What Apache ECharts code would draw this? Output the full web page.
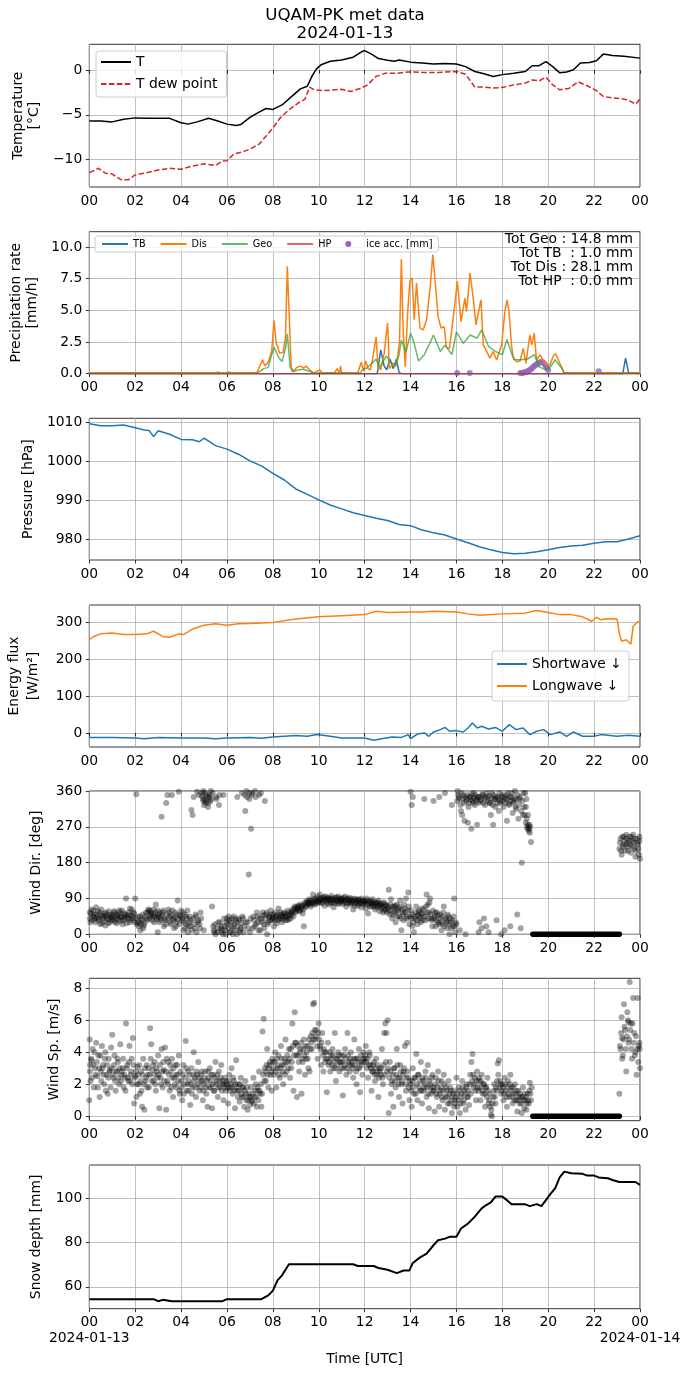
<!DOCTYPE html>
<html>
<head>
<meta charset="utf-8">
<script src="https://cdn.jsdelivr.net/npm/echarts@6/dist/echarts.min.js"></script>
<style>html,body{margin:0;padding:0;background:#fff}#chart{width:690px;height:1377px}</style>
</head>
<body>
<div id="chart"></div>
<script>
// ---- data (time in hours UTC since 2024-01-13 00:00) ----
var titleLines = ['UQAM-PK met data', '2024-01-13'];
var totLabels = ['Tot Geo : 14.8 mm', 'Tot TB  : 1.0 mm', 'Tot Dis : 28.1 mm', 'Tot HP  : 0.0 mm'];
var dateLabels = ['2024-01-13', '2024-01-14'];

var tempT = [[0,-5.7],[0.5,-5.7],[1,-5.8],[1.5,-5.5],[2,-5.35],[2.5,-5.4],[3,-5.4],[3.5,-5.4],[4,-5.9],[4.3,-6.05],[4.7,-5.8],[5.2,-5.4],[5.6,-5.7],[6,-6.05],[6.4,-6.2],[6.6,-6.1],[7,-5.3],[7.4,-4.7],[7.7,-4.3],[8,-4.4],[8.4,-3.9],[8.8,-3.0],[9.2,-2.1],[9.5,-1.8],[9.7,-0.7],[9.9,0.15],[10.1,0.6],[10.5,1.0],[11,1.15],[11.5,1.45],[11.9,2.1],[12,2.2],[12.3,1.8],[12.6,1.3],[13,1.1],[13.3,1.0],[13.5,1.15],[14,0.9],[14.5,0.8],[15,0.7],[15.5,0.75],[16,0.7],[16.4,0.4],[16.8,-0.15],[17.2,-0.4],[17.6,-0.7],[18,-0.5],[18.5,-0.35],[19,-0.15],[19.3,0.5],[19.6,0.5],[19.9,0.95],[20.2,0.4],[20.5,-0.3],[20.8,-0.2],[21.1,0.05],[21.4,0.8],[21.8,0.85],[22.1,1.05],[22.4,1.8],[22.8,1.65],[23.3,1.55],[24,1.35]];
var tempDew = [[0,-11.5],[0.4,-11.0],[0.7,-11.55],[1,-11.65],[1.4,-12.3],[1.7,-12.3],[2,-11.75],[2.5,-11.5],[3,-11.2],[3.5,-11.0],[4,-11.1],[4.5,-10.75],[5,-10.5],[5.5,-10.7],[5.8,-10.2],[6,-10.15],[6.3,-9.4],[6.7,-9.15],[7,-8.85],[7.4,-8.3],[7.7,-7.4],[8,-6.5],[8.3,-5.4],[8.7,-4.45],[9.1,-3.7],[9.4,-3.25],[9.6,-1.9],[9.8,-2.2],[10.2,-2.3],[10.7,-2.2],[11,-2.15],[11.4,-2.4],[11.8,-2.05],[12.1,-1.7],[12.5,-0.7],[12.9,-0.35],[13.4,-0.35],[13.9,-0.2],[14.5,-0.25],[15.2,-0.25],[16,-0.15],[16.4,-0.45],[16.8,-1.9],[17.2,-1.9],[17.6,-2.0],[18,-1.95],[18.5,-1.65],[19,-1.45],[19.3,-1.1],[19.6,-1.2],[19.9,-0.8],[20.2,-1.65],[20.5,-2.2],[20.9,-2.05],[21.3,-1.3],[21.7,-1.75],[22.1,-2.3],[22.4,-2.95],[22.8,-3.1],[23.2,-3.2],[23.5,-3.35],[23.8,-3.8],[24,-3.25]];

var precipTB = [[0,0],[12.55,0],[12.7,1.88],[12.85,0.6],[12.96,0.3],[13.1,1.15],[13.25,0.4],[13.38,1.15],[13.5,0.1],[13.6,0],[23.25,0],[23.37,1.22],[23.5,0.1],[23.55,0],[24,0]];
var precipDis = [[0,0.05],[7.3,0.05],[7.55,1.1],[7.65,0.6],[7.8,0.9],[7.95,1.8],[8.05,4.2],[8.15,2.4],[8.3,1.6],[8.45,1.7],[8.55,2.9],[8.63,8.47],[8.72,4.2],[8.8,0.5],[8.9,0.2],[9.05,0.5],[9.2,0.6],[9.35,0.45],[9.45,0.6],[9.6,0.3],[9.75,0.05],[10.05,0.3],[10.15,0.05],[10.7,0.1],[10.8,0.4],[10.9,0.05],[10.95,0.6],[11.0,0.05],[11.7,0.05],[11.85,0.9],[11.95,0.2],[12.05,1.0],[12.15,0.4],[12.25,0.3],[12.35,1.2],[12.5,2.9],[12.58,0.6],[12.7,0.3],[12.85,1.6],[13.0,4.0],[13.08,0.4],[13.2,0.7],[13.35,0.6],[13.45,1.5],[13.52,2.6],[13.6,9.05],[13.68,3.3],[13.77,0.55],[13.87,4.7],[13.97,7.3],[14.07,7.55],[14.16,4.25],[14.26,7.15],[14.41,3.6],[14.55,3.45],[14.7,4.25],[14.86,6.9],[14.97,9.4],[15.08,7.15],[15.2,4.5],[15.33,3.6],[15.47,3.7],[15.56,2.1],[15.7,2.0],[15.85,4.25],[16.04,7.28],[16.2,4.1],[16.37,5.96],[16.44,4.9],[16.59,7.94],[16.73,6.0],[16.85,3.85],[17.07,5.83],[17.17,2.27],[17.32,1.74],[17.46,1.22],[17.6,1.74],[17.75,1.08],[17.97,2.27],[18.11,4.9],[18.21,5.83],[18.29,4.9],[18.4,2.27],[18.47,1.35],[18.62,0.95],[18.77,1.0],[18.91,2.0],[19.03,0.82],[19.2,3.06],[19.28,2.27],[19.39,3.2],[19.49,1.08],[19.64,1.48],[19.78,1.08],[19.93,0.69],[20.07,0.69],[20.22,1.4],[20.32,1.6],[20.44,1.08],[20.58,0.55],[20.68,0.1],[20.8,0.05],[24,0.05]];
var precipGeo = [[0,0.05],[5.5,0.05],[5.6,0.15],[5.7,0.05],[6.0,0.05],[6.1,0.15],[6.2,0.05],[7.3,0.05],[7.45,0.2],[7.6,0.4],[7.8,0.5],[7.9,1.2],[8.05,2.1],[8.25,1.3],[8.4,0.95],[8.55,2.0],[8.63,3.15],[8.75,0.55],[8.85,0.15],[9.1,0.3],[9.3,0.35],[9.6,0.2],[9.8,0.05],[11.8,0.05],[11.9,0.3],[12.1,0.45],[12.3,0.8],[12.5,1.15],[12.65,0.5],[12.75,0.8],[12.95,1.4],[13.1,0.95],[13.35,0.65],[13.5,1.5],[13.6,2.65],[13.8,1.7],[14.0,3.2],[14.15,2.45],[14.35,1.0],[14.6,1.5],[14.85,2.45],[15.0,3.05],[15.3,1.75],[15.5,2.25],[15.8,1.5],[16.0,3.3],[16.3,2.4],[16.6,3.05],[16.9,2.8],[17.1,3.45],[17.4,2.15],[17.7,1.75],[18.0,1.5],[18.2,2.7],[18.5,1.1],[18.8,1.1],[19.1,1.15],[19.4,1.5],[19.6,0.55],[19.9,0.3],[20.1,0.55],[20.3,1.1],[20.6,0.4],[20.7,0.05],[24,0.05]];
var precipHP = [[0,0],[24,0]];
var iceAcc = [[16.03,0.05],[16.58,0.05],[18.78,0.05],[18.84,0.06],[18.9,0.08],[18.96,0.1],[19.02,0.13],[19.08,0.18],[19.14,0.23],[19.2,0.3],[19.26,0.38],[19.32,0.48],[19.38,0.58],[19.44,0.67],[19.5,0.75],[19.56,0.83],[19.62,0.88],[19.68,0.92],[19.74,0.9],[19.8,0.84],[19.85,0.74],[19.9,0.6],[19.95,0.45],[20.0,0.3],[22.2,0.2]];

var pressure = [[0,1009.6],[0.5,1009.1],[1,1009.1],[1.5,1009.3],[2,1008.6],[2.4,1008.0],[2.6,1007.9],[2.8,1006.3],[3.0,1007.8],[3.5,1006.9],[4,1005.6],[4.5,1005.5],[4.8,1005.0],[5.0,1005.9],[5.5,1004.0],[6,1003.1],[6.5,1001.8],[7,1000.1],[7.5,998.8],[8,996.9],[8.5,995.2],[9,992.9],[9.5,991.5],[10,990.1],[10.5,988.8],[11,987.8],[11.5,986.8],[12,986.1],[12.5,985.4],[13,984.8],[13.5,983.8],[14,983.5],[14.5,982.4],[15,981.7],[15.5,981.1],[16,980.1],[16.5,979.1],[17,978.1],[17.5,977.3],[18,976.6],[18.5,976.3],[19,976.4],[19.5,976.8],[20,977.3],[20.5,977.9],[21,978.3],[21.5,978.5],[22,979.0],[22.5,979.4],[23,979.4],[23.5,980.1],[24,980.9]];

var shortwave = [[0,-12],[1,-12.5],[2,-13.5],[2.4,-16],[3,-12],[4,-13.5],[5,-13.5],[5.5,-16],[6,-13.5],[7,-12.6],[7.5,-14.4],[8,-10.8],[9,-7.2],[9.5,-9],[9.9,-4.5],[10.5,-9],[11,-13.5],[12,-13.5],[12.4,-20],[12.8,-15],[13.2,-10.8],[13.6,-12],[13.9,-4.5],[14.0,-15],[14.3,-3],[14.6,0],[14.8,-9],[15.0,2.7],[15.3,9],[15.5,15],[15.7,4.5],[16,6.3],[16.3,2.7],[16.5,13.5],[16.7,27],[16.9,13.5],[17.1,18],[17.4,10.8],[17.7,15],[18.0,4.5],[18.3,22.5],[18.6,9],[18.9,13.5],[19.2,-4.5],[19.5,4.5],[19.8,9],[20.1,-4.5],[20.5,2.7],[20.8,-9],[21.1,2.7],[21.5,-9],[22,-9],[22.3,-4.5],[23,-9],[23.5,-6],[24,-9]];
var longwave = [[0,252],[0.2,261],[0.5,268],[1,270],[1.5,266],[2,266],[2.5,268],[2.8,275],[3.2,261],[3.5,259],[3.9,268],[4.1,266],[4.5,281],[5,291],[5.5,295],[6,291],[6.5,295],[7,296],[8,299],[9,308],[10,314],[11,317],[12,320],[12.5,329],[13,326],[14,327],[14.5,327],[15,329],[16,327],[16.5,322],[17,318],[18,322],[19,324],[19.5,331],[20,326],[20.5,320],[21,320],[21.5,314],[21.9,302],[22.1,313],[22.3,306],[22.5,309],[23,308],[23.1,270],[23.2,248],[23.4,252],[23.6,240],[23.7,288],[23.9,300],[24,302]];

var windDir = [[0.02,55],[0.05,30],[0.1,62],[0.15,45],[0.2,50],[0.25,38],[0.3,68],[0.35,42],[0.4,35],[0.45,55],[0.5,48],[0.55,28],[0.6,40],[0.65,52],[0.7,22],[0.75,45],[0.8,38],[0.85,58],[0.9,30],[0.95,44],
[1.0,50],[1.05,35],[1.1,55],[1.15,40],[1.2,28],[1.25,48],[1.3,60],[1.35,33],[1.4,45],[1.45,25],[1.5,52],[1.55,38],[1.6,90],[1.65,42],[1.7,55],[1.75,30],[1.8,48],[1.85,62],[1.9,40],[1.95,52],
[2.0,90],[2.05,352],[2.1,30],[2.15,20],[2.2,45],[2.25,25],[2.3,35],[2.35,15],[2.4,28],[2.5,40],[2.55,55],[2.6,60],[2.65,48],[2.7,52],[2.75,35],[2.8,62],[2.85,45],[2.9,75],[2.95,38],[2.98,5],
[3.0,50],[3.05,30],[3.1,42],[3.15,295],[3.2,55],[3.25,20],[3.3,35],[3.35,330],[3.4,350],[3.45,62],[3.5,45],[3.55,25],[3.6,350],[3.65,40],[3.7,15],[3.75,55],[3.8,30],[3.85,85],[3.9,358],[3.95,48],
[4.0,60],[4.05,35],[4.1,10],[4.15,50],[4.2,25],[4.25,40],[4.3,5],[4.35,30],[4.4,20],[4.45,312],[4.5,300],[4.55,345],[4.6,15],[4.65,45],[4.7,358],[4.75,35],[4.8,25],[4.85,55],[4.9,348],[4.95,340],[4.97,360],[4.99,10],
[5.0,325],[5.05,355],[5.1,335],[5.15,345],[5.2,330],[5.25,350],[5.3,360],[5.35,70],[5.4,20],[5.45,5],[5.5,0],[5.55,340],[5.6,15],[5.65,325],[5.7,30],[5.75,5],[5.8,10],[5.85,350],[5.9,20],[5.95,0],
[6.0,40],[6.05,15],[6.1,35],[6.15,5],[6.2,20],[6.25,0],[6.3,45],[6.35,10],[6.4,30],[6.45,345],[6.5,40],[6.55,5],[6.6,15],[6.65,355],[6.7,40],[6.75,20],[6.8,310],[6.85,360],[6.9,30],[6.95,150],[6.98,340],
[7.0,5],[7.05,265],[7.1,355],[7.15,45],[7.2,20],[7.25,345],[7.3,55],[7.35,30],[7.4,350],[7.45,10],[7.5,40],[7.55,55],[7.6,25],[7.65,335],[7.7,50],[7.75,0],[7.8,30],[7.85,45],[7.9,60],[7.95,35],
[8.0,40],[8.05,20],[8.1,55],[8.15,45],[8.2,35],[8.25,65],[8.3,40],[8.35,50],[8.4,30],[8.45,45],[8.5,55],[8.55,35],[8.6,42],[8.65,60],[8.7,38],[8.75,48],[8.8,55],[8.85,62],[8.9,45],[8.95,70],
[9.0,58],[9.05,65],[9.1,72],[9.15,60],[9.2,75],[9.25,68],[9.3,52],[9.35,20],[9.4,80],[9.45,72],[9.5,85],[9.55,78],[9.6,88],[9.65,70],[9.7,80],[9.75,100],[9.8,75],[9.85,90],[9.9,82],[9.95,95],
[10.0,85],[10.05,100],[10.1,78],[10.15,92],[10.2,88],[10.25,72],[10.3,95],[10.35,84],[10.4,90],[10.45,75],[10.5,88],[10.55,96],[10.6,80],[10.65,68],[10.7,92],[10.75,85],[10.8,78],[10.85,95],[10.9,82],[10.95,88],
[11.0,90],[11.05,76],[11.1,85],[11.15,95],[11.2,70],[11.25,88],[11.3,80],[11.35,92],[11.4,75],[11.45,85],[11.5,62],[11.55,90],[11.6,78],[11.65,84],[11.7,72],[11.75,88],[11.8,80],[11.85,68],[11.9,85],[11.95,75],
[12.0,82],[12.05,65],[12.1,90],[12.15,52],[12.2,78],[12.25,85],[12.3,70],[12.35,88],[12.4,75],[12.45,62],[12.5,80],[12.55,72],[12.6,85],[12.65,58],[12.7,75],[12.75,68],[12.8,55],[12.85,80],[12.9,62],[12.95,72],
[13.0,65],[13.05,112],[13.1,50],[13.15,88],[13.2,40],[13.25,70],[13.3,55],[13.35,30],[13.4,75],[13.45,60],[13.5,45],[13.55,85],[13.6,10],[13.65,55],[13.7,35],[13.75,65],[13.8,90],[13.85,45],[13.9,105],[13.95,25],
[14.0,358],[14.02,60],[14.05,325],[14.08,20],[14.1,345],[14.15,5],[14.2,40],[14.25,70],[14.3,25],[14.35,55],[14.4,45],[14.45,30],[14.5,65],[14.55,50],[14.6,340],[14.65,35],[14.7,100],[14.75,75],[14.8,55],[14.85,90],[14.9,40],[14.95,20],
[15.0,335],[15.05,45],[15.1,20],[15.15,55],[15.2,30],[15.25,345],[15.3,40],[15.35,10],[15.4,25],[15.45,70],[15.5,355],[15.55,35],[15.6,15],[15.65,45],[15.7,0],[15.75,30],[15.8,325],[15.85,20],[15.9,90],[15.95,5],
[16.0,25],[16.05,360],[16.1,345],[16.15,10],[16.2,310],[16.25,300],[16.3,350],[16.35,285],[16.4,0],[16.45,340],[16.5,280],[16.55,330],[16.6,345],[16.65,265],[16.7,335],[16.75,355],[16.8,325],[16.85,340],[16.9,275],[16.95,345],[16.97,5],
[17.0,30],[17.05,335],[17.1,15],[17.15,350],[17.2,40],[17.25,325],[17.3,20],[17.35,345],[17.4,5],[17.45,330],[17.5,300],[17.55,355],[17.6,275],[17.65,340],[17.7,320],[17.75,35],[17.8,345],[17.85,310],[17.9,330],[17.95,0],
[18.0,350],[18.05,320],[18.1,10],[18.15,340],[18.2,285],[18.25,355],[18.3,325],[18.35,20],[18.4,345],[18.45,305],[18.5,335],[18.55,360],[18.6,315],[18.65,50],[18.7,290],[18.75,340],[18.8,15],[18.85,180],[18.9,300],[18.95,320],
[19.0,355],[19.02,280],[19.05,340],[19.08,270],[19.1,265],[19.12,300],[19.15,260],[19.18,275],[19.2,255],[19.25,232],
[23.1,215],[23.15,240],[23.2,200],[23.25,225],[23.3,245],[23.35,210],[23.4,250],[23.45,230],[23.5,220],[23.55,245],[23.6,205],[23.65,235],[23.7,250],[23.75,215],[23.8,195],[23.85,240],[23.9,225],[23.95,200],[24.0,190],[23.98,245]];
// in-between samples of the same record (half-step times)
var windDirB = [[0.025,40],[0.075,52],[0.125,35],[0.175,60],[0.225,44],[0.275,30],[0.325,50],[0.375,58],[0.425,40],[0.475,25],[0.525,62],[0.575,45],[0.625,33],[0.675,48],[0.725,55],[0.775,40],[0.825,28],[0.875,50],[0.925,45],[0.975,36],
[1.025,42],[1.075,58],[1.125,30],[1.175,50],[1.225,45],[1.275,38],[1.325,55],[1.375,42],[1.425,60],[1.475,35],[1.525,45],[1.575,50],[1.625,28],[1.675,48],[1.725,40],[1.775,65],[1.825,35],[1.875,45],[1.925,55],[1.975,30],
[2.025,40],[2.075,25],[2.125,45],[2.175,30],[2.225,10],[2.275,38],[2.325,50],[2.375,22],[2.425,45],[2.475,55],[2.525,35],[2.575,62],[2.625,40],[2.675,58],[2.725,45],[2.775,50],[2.825,30],[2.875,55],[2.925,42],[2.975,60],
[3.025,45],[3.075,55],[3.125,35],[3.175,48],[3.225,60],[3.275,40],[3.325,25],[3.375,50],[3.425,38],[3.475,55],[3.525,30],[3.575,48],[3.625,60],[3.675,35],[3.725,42],[3.775,20],[3.825,50],[3.875,38],[3.925,25],[3.975,45],
[4.025,40],[4.075,55],[4.125,30],[4.175,15],[4.225,45],[4.275,60],[4.325,20],[4.375,45],[4.425,35],[4.475,10],[4.525,40],[4.575,25],[4.625,50],[4.675,5],[4.725,30],[4.775,350],[4.825,15],[4.875,40],[4.925,355],[4.975,335],
[5.025,340],[5.075,330],[5.125,350],[5.175,320],[5.225,345],[5.275,335],[5.325,340],[5.375,355],[5.425,10],[5.475,25],[5.525,345],[5.575,5],[5.625,30],[5.675,350],[5.725,15],[5.775,20],[5.825,0],[5.875,40],[5.925,10],[5.975,30],
[6.025,25],[6.075,45],[6.125,5],[6.175,30],[6.225,40],[6.275,15],[6.325,25],[6.375,38],[6.425,0],[6.475,20],[6.525,35],[6.575,10],[6.625,28],[6.675,45],[6.725,5],[6.775,350],[6.825,30],[6.875,345],[6.925,15],[6.975,355],
[7.025,40],[7.075,350],[7.125,15],[7.175,35],[7.225,360],[7.275,25],[7.325,45],[7.375,10],[7.425,40],[7.475,355],[7.525,30],[7.575,48],[7.625,15],[7.675,40],[7.725,55],[7.775,25],[7.825,45],[7.875,35],[7.925,50],[7.975,42],
[8.025,50],[8.075,35],[8.125,45],[8.175,28],[8.225,50],[8.275,40],[8.325,55],[8.375,45],[8.425,38],[8.475,52],[8.525,45],[8.575,50],[8.625,35],[8.675,48],[8.725,55],[8.775,40],[8.825,50],[8.875,58],[8.925,65],[8.975,55],
[9.025,68],[9.075,62],[9.125,70],[9.175,58],[9.225,65],[9.275,72],[9.325,62],[9.375,75],[9.425,68],[9.475,80],[9.525,76],[9.575,82],[9.625,75],[9.675,85],[9.725,78],[9.775,88],[9.825,82],[9.875,76],[9.925,88],[9.975,80],
[10.025,82],[10.075,90],[10.125,86],[10.175,80],[10.225,94],[10.275,84],[10.325,88],[10.375,78],[10.425,92],[10.475,86],[10.525,80],[10.575,90],[10.625,85],[10.675,78],[10.725,88],[10.775,93],[10.825,84],[10.875,76],[10.925,90],[10.975,82],
[11.025,85],[11.075,92],[11.125,80],[11.175,86],[11.225,78],[11.275,90],[11.325,84],[11.375,80],[11.425,88],[11.475,78],[11.525,84],[11.575,72],[11.625,88],[11.675,80],[11.725,86],[11.775,76],[11.825,82],[11.875,90],[11.925,78],[11.975,84],
[12.025,78],[12.075,85],[12.125,74],[12.175,82],[12.225,70],[12.275,80],[12.325,76],[12.375,82],[12.425,70],[12.475,78],[12.525,68],[12.575,80],[12.625,72],[12.675,76],[12.725,65],[12.775,78],[12.825,70],[12.875,60],[12.925,75],[12.975,55],
[13.025,70],[13.075,60],[13.125,75],[13.175,62],[13.225,50],[13.275,68],[13.325,72],[13.375,58],[13.425,45],[13.475,65],[13.525,70],[13.575,40],[13.625,62],[13.675,50],[13.725,75],[13.775,55],[13.825,40],[13.875,60],[13.925,70],[13.975,45],
[14.025,40],[14.075,50],[14.125,30],[14.175,45],[14.225,55],[14.275,35],[14.325,48],[14.375,60],[14.425,40],[14.475,52],[14.525,35],[14.575,62],[14.625,45],[14.675,70],[14.725,55],[14.775,40],[14.825,80],[14.875,50],[14.925,35],[14.975,60],
[15.025,40],[15.075,55],[15.125,35],[15.175,48],[15.225,25],[15.275,50],[15.325,30],[15.375,45],[15.425,55],[15.475,20],[15.525,40],[15.575,30],[15.625,50],[15.675,25],[15.725,40],[15.775,15],[15.825,35],[15.875,45],[15.925,20],[15.975,30],
[16.025,335],[16.075,350],[16.125,340],[16.175,325],[16.225,355],[16.275,340],[16.325,330],[16.375,345],[16.425,335],[16.475,350],[16.525,320],[16.575,345],[16.625,338],[16.675,352],[16.725,330],[16.775,342],[16.825,350],[16.875,335],[16.925,345],[16.975,330],
[17.025,345],[17.075,338],[17.125,352],[17.175,330],[17.225,345],[17.275,340],[17.325,355],[17.375,335],[17.425,348],[17.475,330],[17.525,342],[17.575,325],[17.625,350],[17.675,338],[17.725,345],[17.775,330],[17.825,340],[17.875,355],[17.925,335],[17.975,345],
[18.025,335],[18.075,345],[18.125,330],[18.175,350],[18.225,340],[18.275,328],[18.325,345],[18.375,335],[18.425,355],[18.475,330],[18.525,342],[18.575,320],[18.625,338],[18.675,350],[18.725,325],[18.775,345],[18.825,310],[18.875,335],[18.925,355],[18.975,300],
[19.025,320],[19.065,290],[19.115,275],[19.165,265],[19.215,270],
[23.125,230],[23.175,210],[23.225,245],[23.275,220],[23.325,235],[23.375,225],[23.425,240],[23.475,210],[23.525,235],[23.575,225],[23.625,245],[23.675,220],[23.725,230],[23.775,240],[23.825,210],[23.875,230],[23.925,215],[23.975,235]];

var windSpeed = [[0.02,4.8],[0.05,2.2],[0.1,3.5],[0.15,4.2],[0.2,1.8],[0.25,3.0],[0.3,4.6],[0.35,2.5],[0.4,3.8],[0.45,1.2],[0.5,2.8],[0.55,4.4],[0.6,3.2],[0.65,2.0],[0.7,4.0],[0.75,2.6],[0.8,1.4],[0.85,3.6],[0.9,2.9],[0.95,4.3],[0.0,1.0],[0.03,3.2],
[1.0,5.1],[1.05,2.4],[1.1,3.8],[1.15,1.6],[1.2,2.8],[1.25,3.4],[1.3,2.0],[1.35,4.5],[1.4,2.6],[1.45,3.0],[1.5,1.8],[1.55,2.4],[1.6,5.8],[1.65,3.2],[1.7,2.2],[1.75,4.4],[1.8,2.6],[1.85,3.6],[1.9,4.9],[1.95,0.8],
[2.0,2.5],[2.05,1.2],[2.1,3.1],[2.15,2.0],[2.2,1.4],[2.25,2.8],[2.3,0.6],[2.35,3.6],[2.4,0.4],[2.45,2.2],[2.5,3.2],[2.55,2.6],[2.6,1.8],[2.65,5.5],[2.7,4.5],[2.75,2.9],[2.8,2.2],[2.85,3.4],[2.9,1.6],[2.95,2.8],
[3.0,3.8],[3.05,0.5],[3.1,2.4],[3.15,4.2],[3.2,1.8],[3.25,2.9],[3.3,4.3],[3.35,0.4],[3.4,2.2],[3.45,3.4],[3.5,1.6],[3.55,2.8],[3.6,3.6],[3.65,1.2],[3.7,2.4],[3.75,3.2],[3.8,1.8],[3.85,2.6],[3.9,3.8],[3.95,1.4],
[4.0,2.2],[4.05,1.0],[4.1,3.2],[4.15,2.0],[4.2,4.7],[4.25,1.6],[4.3,2.8],[4.35,2.2],[4.4,0.7],[4.45,3.0],[4.5,1.8],[4.55,4.0],[4.6,2.4],[4.65,1.2],[4.7,2.6],[4.75,3.4],[4.8,1.6],[4.85,2.2],[4.9,2.8],[4.95,1.0],
[5.0,2.0],[5.05,2.8],[5.1,1.4],[5.15,0.6],[5.2,2.4],[5.25,3.0],[5.3,1.8],[5.35,0.5],[5.4,2.6],[5.45,1.6],[5.5,3.4],[5.55,2.2],[5.6,1.2],[5.65,2.8],[5.7,1.8],[5.75,3.2],[5.8,2.0],[5.85,1.0],[5.9,2.4],[5.95,1.6],
[6.0,2.0],[6.05,0.8],[6.1,2.6],[6.15,1.8],[6.2,3.0],[6.25,1.4],[6.3,2.2],[6.35,0.5],[6.4,3.5],[6.45,1.6],[6.5,2.0],[6.55,0.9],[6.6,2.4],[6.65,1.2],[6.7,1.8],[6.75,0.6],[6.8,2.2],[6.85,1.0],[6.9,0.4],[6.95,1.4],
[7.0,0.7],[7.05,1.8],[7.1,0.9],[7.15,2.4],[7.2,1.2],[7.25,2.0],[7.3,0.6],[7.35,1.6],[7.4,2.8],[7.45,1.4],[7.5,0.6],[7.55,5.3],[7.6,6.1],[7.65,3.0],[7.7,2.2],[7.75,4.2],[7.8,1.8],[7.85,3.2],[7.9,2.6],[7.95,1.6],
[8.0,3.4],[8.05,2.6],[8.1,4.0],[8.15,1.8],[8.2,3.0],[8.25,3.8],[8.3,2.4],[8.35,4.4],[8.4,3.2],[8.45,2.0],[8.5,3.6],[8.55,4.8],[8.6,2.8],[8.65,3.4],[8.7,4.2],[8.75,2.4],[8.8,3.0],[8.85,5.8],[8.9,1.6],[8.95,6.5],
[9.0,4.6],[9.05,1.2],[9.1,3.8],[9.15,2.8],[9.2,4.2],[9.25,1.4],[9.3,3.4],[9.35,4.8],[9.4,2.6],[9.45,3.6],[9.5,4.4],[9.55,3.0],[9.6,2.8],[9.65,5.0],[9.7,4.2],[9.75,7.0],[9.8,7.1],[9.85,4.8],[9.9,5.4],[9.95,3.6],
[10.0,5.8],[10.05,4.4],[10.1,3.2],[10.15,5.2],[10.2,2.8],[10.25,4.0],[10.3,3.6],[10.35,1.5],[10.4,4.6],[10.45,3.4],[10.5,2.8],[10.55,3.8],[10.6,4.2],[10.65,3.0],[10.7,5.2],[10.75,2.2],[10.8,3.6],[10.85,4.0],[10.9,2.8],[10.95,3.4],
[11.0,3.8],[11.05,1.3],[11.1,3.0],[11.15,4.2],[11.2,2.6],[11.25,5.2],[11.3,3.4],[11.35,2.8],[11.4,4.0],[11.45,3.2],[11.5,2.4],[11.55,4.8],[11.6,3.6],[11.65,2.0],[11.7,3.0],[11.75,4.2],[11.8,1.5],[11.85,3.4],[11.9,2.6],[11.95,4.0],
[12.0,3.6],[12.05,4.4],[12.1,3.0],[12.15,2.4],[12.2,4.0],[12.25,3.2],[12.3,1.6],[12.35,2.8],[12.4,3.4],[12.45,2.2],[12.5,3.6],[12.55,2.8],[12.6,1.2],[12.65,3.0],[12.7,2.6],[12.75,4.2],[12.8,2.0],[12.85,5.2],[12.9,5.8],[12.95,5.2],
[13.0,6.0],[13.05,0.2],[13.1,3.4],[13.15,1.4],[13.2,2.2],[13.25,0.6],[13.3,3.0],[13.35,1.8],[13.4,4.2],[13.45,2.4],[13.5,1.2],[13.55,3.2],[13.6,2.0],[13.65,0.8],[13.7,2.8],[13.75,4.4],[13.8,1.6],[13.85,4.6],[13.9,2.4],[13.95,1.0],
[14.0,2.0],[14.05,0.6],[14.1,3.0],[14.15,1.4],[14.2,2.4],[14.25,3.9],[14.3,1.0],[14.35,2.6],[14.4,1.6],[14.45,3.4],[14.5,0.8],[14.55,2.2],[14.6,1.8],[14.65,2.8],[14.7,1.2],[14.75,3.2],[14.8,0.5],[14.85,2.0],[14.9,1.4],[14.95,2.6],
[15.0,1.8],[15.05,0.3],[15.1,2.4],[15.15,1.2],[15.2,2.8],[15.25,0.6],[15.3,1.6],[15.35,2.2],[15.4,1.0],[15.45,2.6],[15.5,0.4],[15.55,1.8],[15.6,1.2],[15.65,2.2],[15.7,0.8],[15.75,1.6],[15.8,0.2],[15.85,1.4],[15.9,0.6],[15.95,1.0],
[16.0,2.4],[16.05,0.6],[16.1,1.8],[16.15,0.2],[16.2,1.2],[16.25,2.2],[16.3,0.8],[16.35,1.6],[16.4,0.4],[16.45,2.0],[16.5,1.2],[16.55,0.7],[16.6,2.6],[16.65,3.4],[16.7,3.9],[16.75,1.8],[16.8,2.4],[16.85,1.0],[16.9,2.8],[16.95,1.6],
[17.0,2.2],[17.05,1.0],[17.1,2.6],[17.15,1.4],[17.2,2.0],[17.25,0.6],[17.3,1.8],[17.35,2.4],[17.4,0.8],[17.45,1.4],[17.5,0.1],[17.55,0.0],[17.6,1.2],[17.65,2.0],[17.7,0.8],[17.75,1.6],[17.8,3.3],[17.85,3.5],[17.9,2.2],[17.95,1.4],
[18.0,2.0],[18.05,1.0],[18.1,2.4],[18.15,1.6],[18.2,0.6],[18.25,2.2],[18.3,1.2],[18.35,2.6],[18.4,1.8],[18.45,0.8],[18.5,1.4],[18.55,2.0],[18.6,1.0],[18.65,0.3],[18.7,1.6],[18.75,0.8],[18.8,1.2],[18.85,0.2],[18.9,1.8],[18.95,0.5],
[19.0,1.0],[19.05,0.4],[19.1,1.4],[19.15,0.8],[19.2,2.1],[19.25,1.0],[19.28,1.8],
[23.1,1.4],[23.15,4.2],[23.2,6.2],[23.25,3.8],[23.3,7.0],[23.35,5.4],[23.4,2.8],[23.45,6.5],[23.5,4.6],[23.55,8.4],[23.6,5.8],[23.65,3.6],[23.7,7.4],[23.75,5.2],[23.8,4.0],[23.85,2.6],[23.9,7.4],[23.95,4.4],[24.0,3.0],[23.98,4.2],[23.5,5.9],[23.22,4.9]];
var windSpeedB = [[0.025,2.8],[0.075,3.6],[0.125,2.4],[0.175,3.2],[0.225,4.0],[0.275,2.6],[0.325,3.4],[0.375,1.8],[0.425,3.0],[0.475,3.8],[0.525,2.2],[0.575,3.0],[0.625,2.6],[0.675,3.6],[0.725,1.6],[0.775,3.2],[0.825,2.4],[0.875,2.8],[0.925,1.8],[0.975,3.0],
[1.025,2.6],[1.075,3.2],[1.125,2.2],[1.175,2.8],[1.225,3.6],[1.275,2.4],[1.325,3.0],[1.375,2.2],[1.425,2.8],[1.475,3.6],[1.525,2.6],[1.575,1.6],[1.625,3.0],[1.675,2.4],[1.725,3.4],[1.775,2.2],[1.825,2.8],[1.875,2.0],[1.925,3.2],[1.975,2.4],
[2.025,2.8],[2.075,2.0],[2.125,2.6],[2.175,3.2],[2.225,2.2],[2.275,1.6],[2.325,2.6],[2.375,2.0],[2.425,3.0],[2.475,2.4],[2.525,1.8],[2.575,3.0],[2.625,2.6],[2.675,3.6],[2.725,2.2],[2.775,3.2],[2.825,2.6],[2.875,2.0],[2.925,3.0],[2.975,2.4],
[3.025,2.6],[3.075,3.2],[3.125,2.0],[3.175,2.8],[3.225,3.4],[3.275,2.2],[3.325,2.8],[3.375,3.6],[3.425,2.0],[3.475,2.6],[3.525,3.2],[3.575,1.8],[3.625,2.4],[3.675,3.0],[3.725,2.0],[3.775,2.6],[3.825,3.2],[3.875,2.2],[3.925,1.6],[3.975,2.8],
[4.025,1.8],[4.075,2.6],[4.125,1.4],[4.175,2.4],[4.225,3.0],[4.275,2.0],[4.325,1.6],[4.375,2.6],[4.425,2.0],[4.475,1.4],[4.525,2.6],[4.575,2.2],[4.625,1.8],[4.675,2.8],[4.725,2.0],[4.775,2.4],[4.825,1.8],[4.875,2.6],[4.925,2.2],[4.975,1.6],
[5.025,2.4],[5.075,1.8],[5.125,2.2],[5.175,2.8],[5.225,1.8],[5.275,2.2],[5.325,2.6],[5.375,2.0],[5.425,1.6],[5.475,2.4],[5.525,2.0],[5.575,2.6],[5.625,1.8],[5.675,2.2],[5.725,2.4],[5.775,1.6],[5.825,2.2],[5.875,2.0],[5.925,1.8],[5.975,2.2],
[6.025,1.8],[6.075,2.2],[6.125,1.6],[6.175,2.0],[6.225,1.8],[6.275,2.4],[6.325,1.6],[6.375,2.0],[6.425,1.8],[6.475,1.2],[6.525,1.6],[6.575,2.0],[6.625,1.4],[6.675,1.8],[6.725,1.2],[6.775,1.6],[6.825,1.4],[6.875,1.8],[6.925,1.0],[6.975,1.2],
[7.025,1.2],[7.075,1.0],[7.125,1.4],[7.175,0.8],[7.225,1.6],[7.275,1.2],[7.325,1.8],[7.375,1.0],[7.425,1.6],[7.475,2.0],[7.525,1.4],[7.575,2.6],[7.625,2.2],[7.675,2.8],[7.725,3.2],[7.775,2.6],[7.825,3.0],[7.875,3.4],[7.925,2.8],[7.975,3.6],
[8.025,3.0],[8.075,3.4],[8.125,2.8],[8.175,3.6],[8.225,3.2],[8.275,2.6],[8.325,3.0],[8.375,3.6],[8.425,2.8],[8.475,3.2],[8.525,2.6],[8.575,3.4],[8.625,3.8],[8.675,3.0],[8.725,3.6],[8.775,4.2],[8.825,3.4],[8.875,4.4],[8.925,3.8],[8.975,4.6],
[9.025,3.8],[9.075,4.4],[9.125,3.4],[9.175,4.0],[9.225,4.6],[9.275,3.6],[9.325,4.2],[9.375,3.8],[9.425,4.4],[9.475,4.0],[9.525,3.6],[9.575,4.8],[9.625,4.2],[9.675,4.6],[9.725,5.2],[9.775,4.8],[9.825,5.4],[9.875,5.0],[9.925,4.4],[9.975,5.2],
[10.025,4.8],[10.075,4.2],[10.125,4.6],[10.175,3.8],[10.225,4.2],[10.275,3.4],[10.325,4.0],[10.375,3.6],[10.425,3.2],[10.475,4.0],[10.525,3.6],[10.575,3.2],[10.625,3.8],[10.675,3.4],[10.725,3.0],[10.775,3.6],[10.825,3.2],[10.875,3.8],[10.925,3.4],[10.975,3.0],
[11.025,3.4],[11.075,3.8],[11.125,3.2],[11.175,3.6],[11.225,3.0],[11.275,3.8],[11.325,3.2],[11.375,3.6],[11.425,3.4],[11.475,3.0],[11.525,3.6],[11.575,3.2],[11.625,2.8],[11.675,3.6],[11.725,3.4],[11.775,3.0],[11.825,3.8],[11.875,3.2],[11.925,3.6],[11.975,3.4],
[12.025,3.8],[12.075,3.4],[12.125,3.6],[12.175,3.2],[12.225,3.8],[12.275,3.0],[12.325,2.8],[12.375,3.2],[12.425,2.6],[12.475,3.0],[12.525,2.6],[12.575,3.2],[12.625,2.4],[12.675,2.8],[12.725,3.0],[12.775,2.4],[12.825,3.2],[12.875,2.6],[12.925,3.4],[12.975,2.8],
[13.025,3.0],[13.075,2.4],[13.125,2.8],[13.175,2.0],[13.225,2.6],[13.275,3.0],[13.325,2.2],[13.375,2.6],[13.425,3.2],[13.475,2.0],[13.525,2.4],[13.575,2.8],[13.625,2.2],[13.675,2.6],[13.725,3.0],[13.775,2.0],[13.825,2.4],[13.875,2.8],[13.925,1.8],[13.975,2.2],
[14.025,1.6],[14.075,2.2],[14.125,1.8],[14.175,2.4],[14.225,1.4],[14.275,2.0],[14.325,2.6],[14.375,1.8],[14.425,2.2],[14.475,1.6],[14.525,2.4],[14.575,1.6],[14.625,2.0],[14.675,2.4],[14.725,1.8],[14.775,1.4],[14.825,2.2],[14.875,1.8],[14.925,2.4],[14.975,1.6],
[15.025,1.6],[15.075,2.0],[15.125,1.4],[15.175,1.8],[15.225,2.2],[15.275,1.4],[15.325,1.8],[15.375,1.2],[15.425,1.6],[15.475,2.0],[15.525,1.2],[15.575,1.6],[15.625,0.8],[15.675,1.4],[15.725,1.8],[15.775,1.0],[15.825,1.2],[15.875,1.6],[15.925,0.8],[15.975,1.2],
[16.025,1.4],[16.075,1.0],[16.125,1.6],[16.175,0.8],[16.225,1.4],[16.275,1.8],[16.325,1.0],[16.375,1.4],[16.425,1.8],[16.475,1.2],[16.525,1.6],[16.575,2.0],[16.625,1.4],[16.675,2.2],[16.725,2.6],[16.775,2.0],[16.825,1.6],[16.875,2.2],[16.925,1.8],[16.975,2.4],
[17.025,1.8],[17.075,2.2],[17.125,1.6],[17.175,2.0],[17.225,1.4],[17.275,1.8],[17.325,1.2],[17.375,1.6],[17.425,1.0],[17.475,0.6],[17.525,0.4],[17.575,0.8],[17.625,1.6],[17.675,1.2],[17.725,1.8],[17.775,2.2],[17.825,2.6],[17.875,1.8],[17.925,2.0],[17.975,1.6],
[18.025,1.8],[18.075,1.4],[18.125,2.0],[18.175,1.2],[18.225,1.8],[18.275,1.4],[18.325,2.0],[18.375,1.6],[18.425,1.2],[18.475,1.8],[18.525,1.0],[18.575,1.4],[18.625,1.6],[18.675,1.0],[18.725,1.2],[18.775,1.4],[18.825,0.8],[18.875,1.2],[18.925,1.0],[18.975,1.4],
[19.025,1.2],[19.075,0.8],[19.125,1.0],[19.175,1.6],[19.225,1.4],
[23.125,4.4],[23.175,5.2],[23.225,3.6],[23.275,4.8],[23.325,5.6],[23.375,4.2],[23.425,5.0],[23.475,6.0],[23.525,4.8],[23.575,5.4],[23.625,4.2],[23.675,5.8],[23.725,4.6],[23.775,3.8],[23.825,5.0],[23.875,4.2],[23.925,3.4],[23.975,4.6]];

// calm period: sensor reports 0 for both direction and speed
var calmSpan = [[19.33,0],[23.1,0]];

var snowDepth = [[0,54.4],[2.8,54.4],[3.0,53.5],[3.2,54.1],[3.6,53.5],[5.8,53.5],[6.0,54.4],[7.5,54.4],[7.8,56.1],[8.0,58.3],[8.2,62.9],[8.4,65.2],[8.7,70.2],[11.5,70.2],[11.7,69.4],[12.4,69.4],[12.6,68.5],[13.0,67.7],[13.4,66.2],[13.7,67.4],[13.95,67.4],[14.1,70.8],[14.4,73.2],[14.7,75],[15.0,78.8],[15.2,81.1],[15.5,81.8],[15.7,82.6],[16.0,82.6],[16.2,86.4],[16.5,88.6],[16.8,91.7],[17.1,95.5],[17.3,97],[17.5,98.2],[17.7,100.8],[18.0,100.8],[18.2,99.2],[18.4,97.4],[19.0,97.3],[19.2,96.5],[19.5,97.4],[19.7,96.5],[19.9,99.2],[20.1,102],[20.3,104.5],[20.5,109.5],[20.7,112.1],[21.0,111.4],[21.5,111.1],[21.7,110.3],[22.0,110.3],[22.2,109.5],[22.6,109.1],[22.8,108.3],[23.1,107.4],[23.8,107.4],[24,106.1]];

// ---- chart ----
var FONT = 'DejaVu Sans';
var chart = echarts.init(document.getElementById('chart'), null, {renderer: 'canvas'});

var gridTops = [44.3, 231.7, 418.3, 605, 791, 978.3, 1165];
var gridHeights = [142.7, 142, 141.7, 142, 143.3, 142.4, 143.7];

function pad2(v) {
    var h = Math.round(v) % 24;
    return (h < 10 ? '0' : '') + h;
}

var grids = gridTops.map(function (t, i) {
    return {left: 89.3, width: 550.7, top: t, height: gridHeights[i], show: true,
        borderColor: '#000', borderWidth: 0.8, backgroundColor: 'transparent', outerBoundsMode: 'none'};
});

var xAxes = gridTops.map(function (t, i) {
    var last = i === gridTops.length - 1;
    var ax = {
        gridIndex: i, type: 'value', min: 0, max: 24, interval: 2,
        axisLine: {show: false},
        axisTick: {show: true, length: 3.5, lineStyle: {color: '#000', width: 0.8}},
        axisLabel: {margin: 7, fontFamily: FONT, fontSize: 13.9, color: '#000',
            showMinLabel: true, showMaxLabel: true, formatter: pad2},
        splitLine: {show: true, lineStyle: {color: '#b0b0b0', width: 0.8}}
    };
    if (last) {
        ax.name = 'Time [UTC]';
        ax.nameLocation = 'middle';
        ax.nameGap = 44;
        ax.nameTextStyle = {fontFamily: FONT, fontSize: 13.9, color: '#000'};
    }
    return ax;
});
// second row of labels under the last panel: the dates at both ends
xAxes.push({
    gridIndex: gridTops.length - 1, type: 'value', min: 0, max: 24, position: 'bottom',
    axisLine: {show: false}, axisTick: {show: false}, splitLine: {show: false},
    axisLabel: {margin: 23, customValues: [0, 24], showMinLabel: true, showMaxLabel: true,
        fontFamily: FONT, fontSize: 13.9, color: '#000',
        formatter: function (v) { return v === 0 ? dateLabels[0] : dateLabels[1]; }}
});

function yAxis(i, min, max, ticks, name, gap, fmt, lh) {
    return {
        gridIndex: i, type: 'value', min: min, max: max,
        name: name, nameLocation: 'middle', nameRotate: 90, nameGap: gap,
        nameTextStyle: {fontFamily: FONT, fontSize: 13.9, color: '#000', lineHeight: lh || 16},
        axisLine: {show: false},
        axisTick: {show: true, length: 3.5, customValues: ticks, lineStyle: {color: '#000', width: 0.8}},
        axisLabel: {margin: 7, customValues: ticks, fontFamily: FONT, fontSize: 13.9, color: '#000',
            formatter: fmt || function (v) { return String(v).replace('-', '\u2212'); }},
        splitLine: {show: true, lineStyle: {color: '#b0b0b0', width: 0.8}}
    };
}

var yAxes = [
    yAxis(0, -13.1, 2.9, [-10, -5, 0], 'Temperature\n[°C]', 46),
    yAxis(1, 0, 11.2, [0, 2.5, 5, 7.5, 10], 'Precipitation rate\n[mm/h]', 46, function (v) { return v.toFixed(1); }),
    yAxis(2, 974.7, 1011.0, [980, 990, 1000, 1010], 'Pressure [hPa]', 52.7),
    yAxis(3, -38, 346, [0, 100, 200, 300], 'Energy flux\n[W/m²]', 46, null, 19),
    yAxis(4, 0, 360, [0, 90, 180, 270, 360], 'Wind Dir. [deg]', 43),
    yAxis(5, -0.28, 8.63, [0, 2, 4, 6, 8], 'Wind Sp. [m/s]', 25),
    yAxis(6, 50.1, 115.1, [60, 80, 100], 'Snow depth [mm]', 42.6)
];

function lineSeries(name, idx, data, color, width, dash) {
    return {name: name, type: 'line', xAxisIndex: idx, yAxisIndex: idx, data: data,
        symbol: 'none', showSymbol: false,
        lineStyle: {color: color, width: width, type: dash || 'solid'},
        itemStyle: {color: color}};
}
function dotSeries(name, idx, data, color, size) {
    return {name: name, type: 'scatter', xAxisIndex: idx, yAxisIndex: idx, data: data,
        symbol: 'circle', symbolSize: size, itemStyle: {color: color, borderWidth: 0}};
}

var calmDir = lineSeries('calm dir', 4, calmSpan, '#000', 5.5);
calmDir.lineStyle.cap = 'round';
var calmSp = lineSeries('calm sp', 5, calmSpan, '#000', 5.5);
calmSp.lineStyle.cap = 'round';

var series = [
    lineSeries('T', 0, tempT, '#000000', 1.5),
    lineSeries('T dew point', 0, tempDew, '#d62728', 1.5, [5.5, 2.4]),
    lineSeries('TB', 1, precipTB, '#1f77b4', 1.5),
    lineSeries('Dis', 1, precipDis, '#ff7f0e', 1.5),
    lineSeries('Geo', 1, precipGeo, 'rgba(44,160,44,0.72)', 1.5),
    lineSeries('HP', 1, precipHP, 'rgba(214,39,40,0.7)', 1.5),
    dotSeries('ice acc. [mm]', 1, iceAcc, '#9467bd', 6),
    lineSeries('Pressure', 2, pressure, '#1f77b4', 1.5),
    lineSeries('Shortwave ↓', 3, shortwave, '#1f77b4', 1.5),
    lineSeries('Longwave ↓', 3, longwave, '#ff7f0e', 1.5),
    dotSeries('Wind Dir', 4, windDir.concat(windDirB), 'rgba(0,0,0,0.45)', 6),
    calmDir,
    dotSeries('Wind Sp', 5, windSpeed.concat(windSpeedB), 'rgba(0,0,0,0.45)', 6),
    calmSp,
    lineSeries('Snow depth', 6, snowDepth, '#000000', 2)
];

// line handles only: hide the symbol ECharts puts on line legend icons
var legendBase = {
    backgroundColor: 'rgba(255,255,255,0.8)', borderColor: '#cccccc', borderWidth: 1, borderRadius: 3,
    selectedMode: false, itemStyle: {opacity: 0},
    textStyle: {fontFamily: FONT, fontSize: 13.9, color: '#000'}
};

var option = {
    animation: false,
    backgroundColor: '#fff',
    grid: grids,
    xAxis: xAxes,
    yAxis: yAxes,
    legend: [
        Object.assign({}, legendBase, {data: ['T', 'T dew point'], orient: 'vertical', left: 96, top: 51,
            itemWidth: 30, itemHeight: 14, itemGap: 8, padding: [4, 9, 6, 4]}),
        Object.assign({}, legendBase, {data: ['TB', 'Dis', 'Geo', 'HP', {name: 'ice acc. [mm]', itemStyle: {opacity: 1}}],
            orient: 'horizontal', left: 95, top: 236, itemWidth: 26, itemHeight: 6, itemGap: 14, padding: [3, 6, 3, 6],
            textStyle: {fontFamily: FONT, fontSize: 9.7, color: '#000'}}),
        Object.assign({}, legendBase, {data: ['Shortwave ↓', 'Longwave ↓'], orient: 'vertical', left: 492, top: 651,
            itemWidth: 30, itemHeight: 14, itemGap: 8, padding: [6, 7, 8, 4]})
    ],
    graphic: [
        {type: 'text', x: 345, y: 7.3, style: {text: titleLines.join('\n'), fontFamily: FONT, fontSize: 16.7,
            fill: '#000', align: 'center', verticalAlign: 'top', lineHeight: 17.3}},
        {type: 'text', x: 633, y: 232.3, z: 100, style: {text: totLabels.join('\n'), fontFamily: FONT, fontSize: 13.9,
            fill: '#000', align: 'right', verticalAlign: 'top', lineHeight: 14}}
    ],
    series: series
};

chart.setOption(option);
</script>
</body>
</html>
